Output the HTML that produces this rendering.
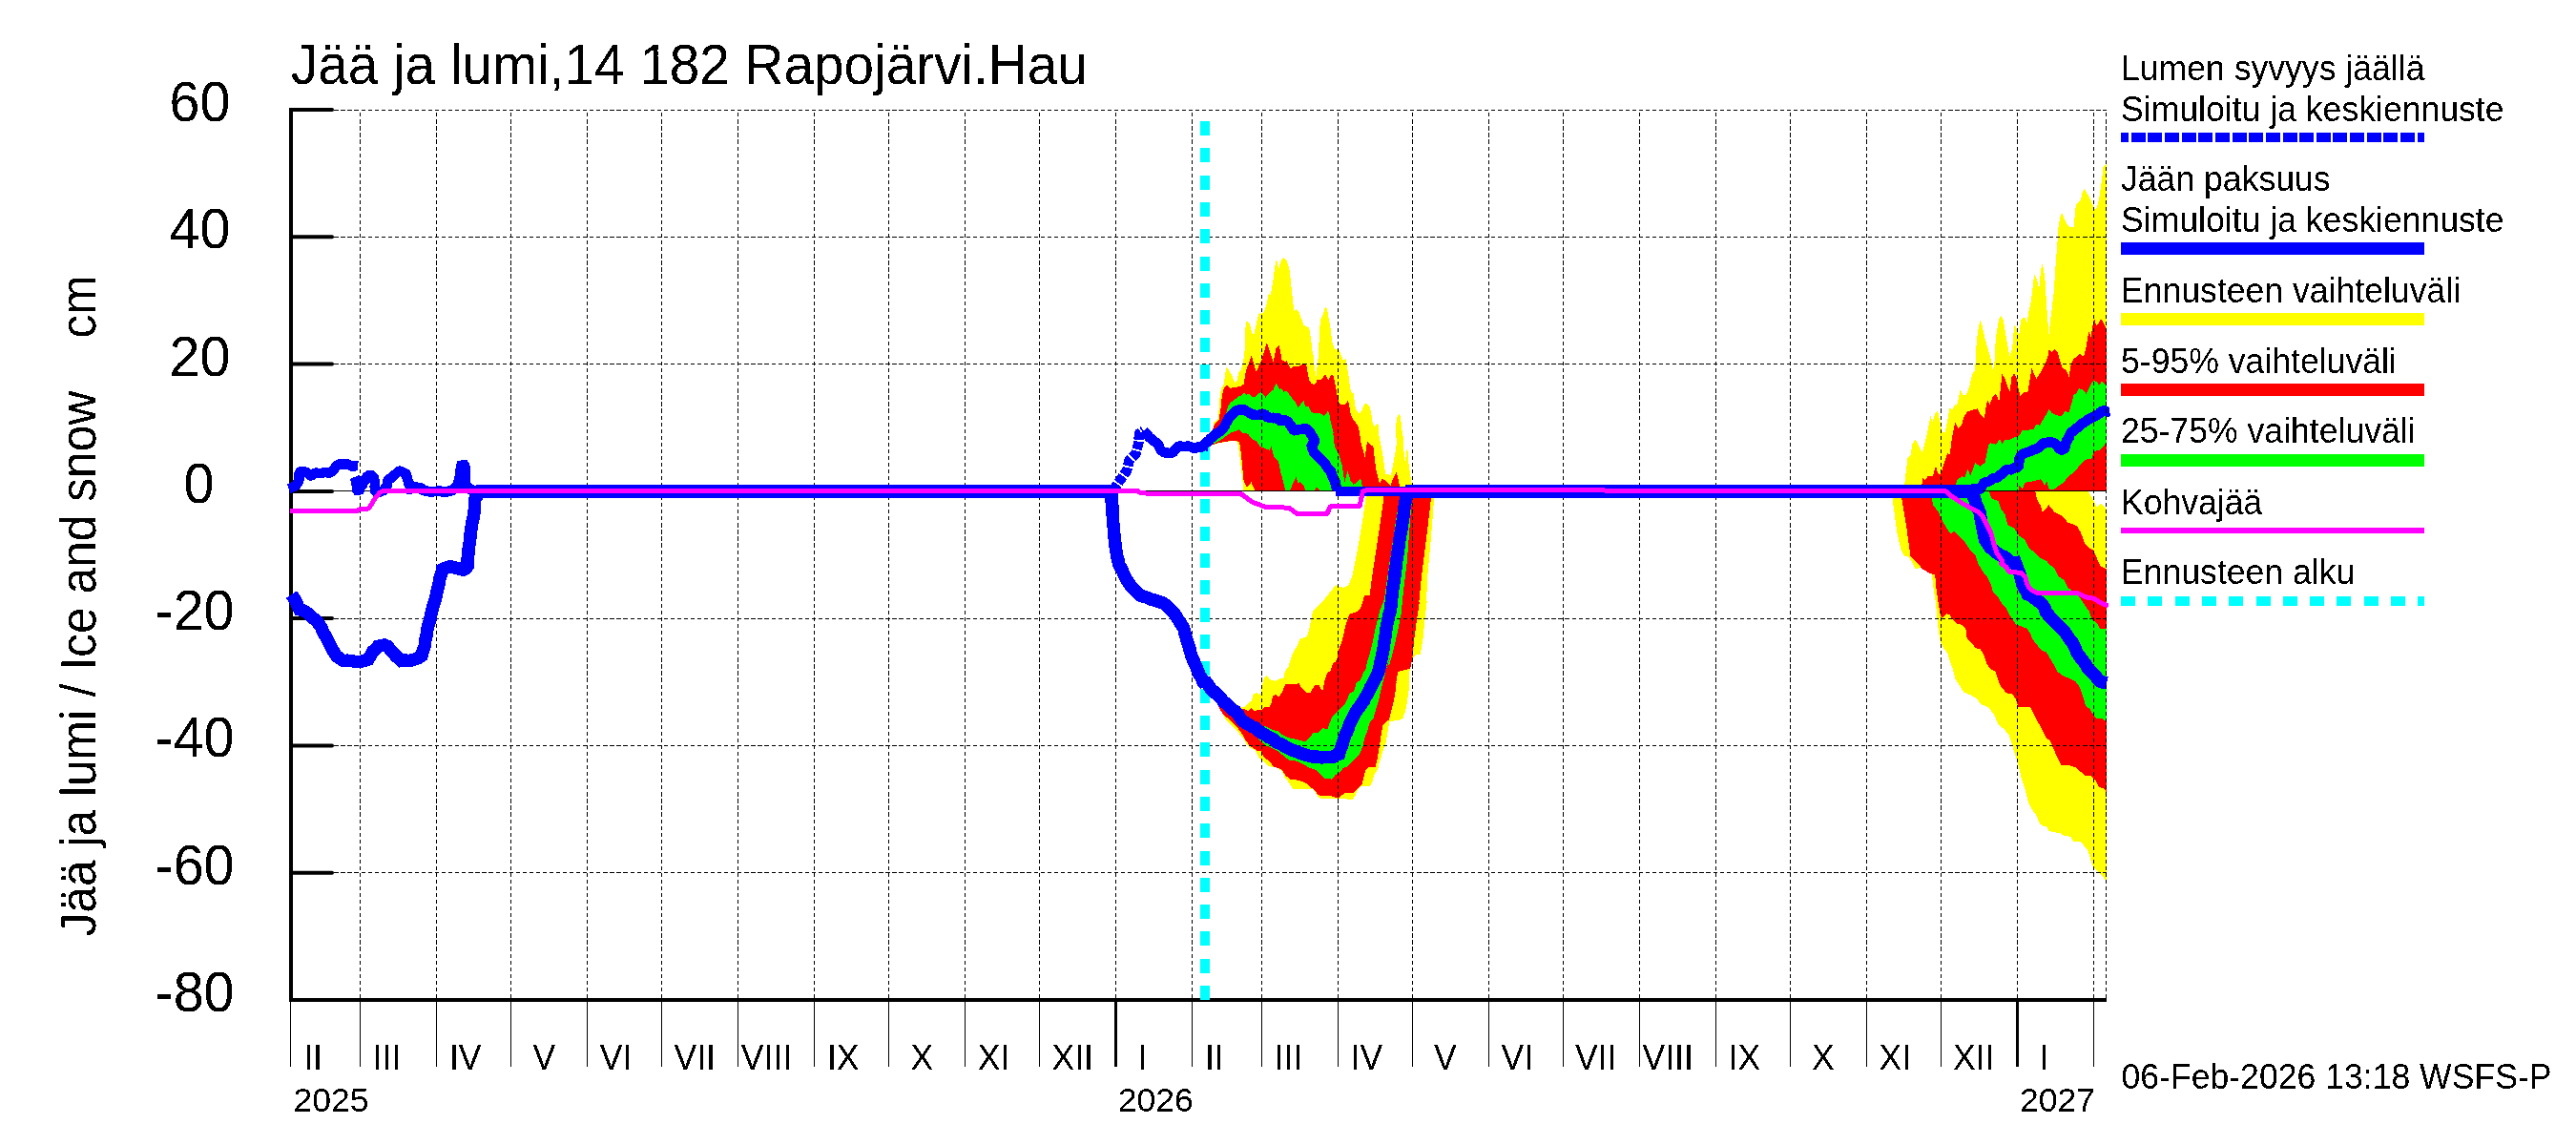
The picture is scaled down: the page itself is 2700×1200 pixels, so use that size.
<!DOCTYPE html>
<html><head><meta charset="utf-8"><title>Jää ja lumi</title>
<style>
html,body{margin:0;padding:0;background:#fff;}
svg{display:block}
text{font-family:"Liberation Sans",sans-serif;fill:#000}
.sm{font-size:35.6px}
.grid{stroke:#000;stroke-width:1;stroke-dasharray:4.2 2.85;fill:none}
</style></head><body>
<svg width="2700" height="1200" viewBox="0 0 2700 1200">
<defs><filter id="thr" x="0" y="0" width="100%" height="100%" filterUnits="userSpaceOnUse" color-interpolation-filters="sRGB"><feComponentTransfer><feFuncA type="discrete" tableValues="0 1"/></feComponentTransfer></filter></defs>
<rect width="2700" height="1200" fill="#fff"/>

<g id="fills" shape-rendering="crispEdges">
<polygon points="1263.1,466.2 1270.1,457.8 1272.0,448.5 1272.4,442.4 1274.8,440.5 1277.1,439.1 1278.0,420.4 1279.0,412.9 1280.4,405.9 1282.7,403.1 1284.1,392.4 1285.5,384.9 1287.4,387.2 1291.1,393.3 1294.4,400.8 1296.3,399.9 1298.1,390.5 1300.9,387.7 1303.3,377.4 1304.7,366.2 1305.1,347.9 1306.1,337.1 1307.5,337.1 1309.8,339.4 1312.1,348.8 1314.5,350.2 1317.3,337.1 1319.6,328.2 1322.0,328.7 1324.8,326.8 1327.6,318.9 1329.4,308.6 1330.8,308.1 1331.8,309.5 1333.2,301.1 1334.6,292.2 1335.5,284.8 1336.4,278.7 1337.4,273.1 1338.8,274.5 1340.2,282.9 1342.1,274.5 1345.3,269.8 1348.6,273.1 1350.5,278.7 1351.9,284.8 1352.8,294.1 1353.7,303.0 1354.7,311.9 1355.6,319.8 1356.5,325.9 1358.4,324.0 1361.7,327.3 1363.6,332.9 1366.4,340.8 1369.2,342.2 1371.5,343.2 1372.9,347.4 1373.8,353.5 1374.8,361.9 1375.2,367.0 1376.2,369.0 1377.6,383.0 1379.4,395.2 1380.4,385.8 1381.8,373.7 1382.7,355.0 1383.2,343.2 1384.6,332.9 1386.9,329.6 1388.3,323.6 1389.7,321.9 1391.1,324.5 1392.5,332.9 1393.9,339.4 1395.3,350.7 1396.7,360.0 1398.6,365.6 1403.3,366.5 1405.1,370.9 1407.9,377.9 1410.7,376.0 1411.7,383.0 1413.6,394.3 1415.0,405.5 1416.4,411.1 1418.7,412.0 1419.6,419.5 1421.0,428.8 1423.8,432.6 1425.7,432.6 1427.6,429.8 1429.0,425.1 1430.8,423.0 1433.2,423.2 1436.0,427.0 1437.4,434.4 1438.8,443.8 1440.7,447.1 1443.0,444.3 1444.9,444.7 1445.3,453.1 1445.8,462.0 1445.5,457.0 1448.9,474.1 1452.3,496.8 1458.0,497.9 1462.5,474.1 1464.2,462.7 1462.6,453.1 1464.0,438.2 1466.8,433.0 1468.2,439.1 1469.2,448.5 1470.6,457.8 1470.5,462.7 1472.7,485.4 1475.0,467.2 1476.7,487.7 1479.6,507.0 1480.7,514.4 1480.7,514.5 1303.6,514.5 1303.6,514.4 1301.3,494.5 1299.0,474.1 1296.8,462.7 1291.7,462.1 1277.5,464.4 1268.4,467.2" fill="#ffff00"/>
<polygon points="1263.1,466.2 1269.2,462.0 1270.6,453.1 1272.0,447.5 1273.4,443.8 1277.6,440.0 1279.4,428.8 1280.8,415.7 1282.2,408.7 1283.6,405.5 1286.0,404.1 1289.7,406.9 1293.5,405.5 1295.8,405.9 1300.9,404.5 1303.7,402.7 1305.1,392.4 1307.0,385.8 1309.3,379.3 1311.7,372.3 1313.1,377.4 1315.0,384.0 1316.8,389.6 1319.2,384.0 1322.4,377.4 1324.8,369.0 1327.6,359.2 1329.4,363.4 1332.2,371.8 1334.6,378.8 1336.0,372.8 1337.4,364.8 1340.5,362.0 1342.1,369.0 1343.5,377.4 1346.3,378.8 1348.6,378.4 1350.9,383.0 1353.3,386.8 1354.7,384.4 1362.1,383.5 1365.0,381.6 1369.2,382.1 1370.6,390.5 1372.0,398.0 1374.3,401.7 1378.0,403.1 1379.4,400.8 1380.8,397.5 1385.5,397.5 1387.9,393.3 1389.3,392.1 1391.1,396.1 1392.5,398.0 1394.4,393.8 1397.2,392.4 1398.6,398.9 1400.5,408.3 1401.9,416.7 1403.3,422.3 1407.0,424.6 1410.3,423.2 1412.6,420.1 1414.0,422.3 1415.0,431.6 1416.8,437.2 1419.2,441.0 1422.9,445.2 1424.3,450.3 1425.7,457.8 1426.2,462.7 1430.7,479.7 1433.0,462.1 1436.4,466.1 1439.3,467.2 1442.1,491.1 1446.1,507.0 1448.9,501.3 1453.4,504.7 1457.4,509.3 1460.3,501.3 1463.7,495.1 1465.9,503.6 1467.1,509.8 1467.6,514.4 1467.6,514.5 1315.5,514.5 1315.5,514.4 1311.5,505.3 1307.0,511.0 1303.6,503.6 1300.7,474.1 1299.0,462.7 1291.7,461.8 1277.5,464.1 1268.4,467.2" fill="#ff0000"/>
<polygon points="1263.1,466.2 1279.0,449.4 1282.7,439.1 1285.5,431.6 1287.4,425.1 1290.2,421.4 1293.9,419.0 1297.7,415.7 1300.5,414.8 1304.2,411.1 1306.1,413.9 1308.9,412.5 1311.7,415.7 1315.4,415.7 1319.2,412.0 1322.0,411.1 1323.8,412.9 1326.6,416.7 1329.4,412.9 1332.2,410.1 1334.6,408.7 1336.0,404.5 1337.9,401.1 1339.7,405.9 1341.1,407.8 1343.0,407.3 1345.3,410.6 1348.1,410.1 1350.9,412.9 1353.7,416.7 1357.5,421.4 1360.7,427.0 1363.1,423.7 1366.4,420.1 1368.2,426.0 1371.5,426.5 1374.3,431.6 1377.1,433.0 1380.8,433.0 1383.6,433.0 1387.4,435.8 1390.2,434.0 1392.1,430.2 1393.5,435.4 1394.9,442.9 1396.3,448.5 1397.7,454.1 1397.2,453.6 1398.9,468.4 1402.4,474.1 1406.9,487.7 1409.2,505.8 1412.6,493.4 1415.4,503.6 1418.8,508.1 1426.2,501.9 1427.9,509.8 1428.5,514.4 1428.5,514.5 1383.6,514.5 1383.6,514.4 1379.6,510.4 1377.9,514.4 1368.3,514.4 1366.0,508.1 1363.2,505.3 1360.3,505.8 1358.6,499.6 1351.8,514.4 1347.3,514.4 1345.0,504.7 1342.2,494.5 1339.9,483.1 1335.4,478.6 1332.5,468.4 1330.8,471.8 1326.3,470.1 1320.6,467.8 1317.2,462.7 1312.7,460.4 1308.1,454.8 1302.4,453.6 1299.0,450.2 1290.0,453.6 1278.6,461.6 1268.4,467.2" fill="#00ff00"/>
<polygon points="1262.1,711.0 1283.6,730.2 1289.3,731.6 1293.9,736.3 1300.5,740.9 1305.1,740.5 1307.9,737.2 1311.7,734.4 1313.6,727.9 1316.8,726.0 1319.6,727.9 1322.0,725.5 1323.8,713.8 1325.7,709.6 1328.0,708.0 1330.8,712.0 1336.9,713.8 1340.7,711.5 1345.3,710.6 1346.7,703.6 1350.5,698.9 1351.9,693.3 1354.2,686.7 1356.1,682.5 1359.3,677.4 1362.1,670.8 1363.6,669.0 1369.2,667.6 1371.5,662.4 1372.9,655.9 1374.8,646.5 1376.2,640.0 1386.0,630.8 1400.0,613.3 1402.8,614.3 1408.4,616.1 1414.0,612.6 1417.5,602.8 1423.1,574.9 1427.9,546.9 1431.4,522.5 1432.4,514.8 1503.7,514.8 1503.1,522.5 1501.3,546.9 1498.9,574.9 1496.4,602.8 1495.0,630.8 1495.7,630.0 1493.6,648.2 1491.5,669.1 1488.7,685.9 1483.8,686.6 1480.4,690.1 1477.6,701.3 1476.9,713.8 1476.2,727.8 1478.0,705.4 1477.1,714.8 1476.2,724.1 1475.2,733.5 1472.9,747.0 1472.0,747.0 1470.6,752.6 1466.8,754.5 1456.5,756.3 1454.7,765.7 1452.8,777.8 1450.9,782.5 1448.1,791.9 1445.3,800.3 1444.4,805.9 1440.7,811.5 1437.9,820.8 1436.0,823.6 1427.6,823.6 1422.9,827.4 1421.0,833.0 1418.2,837.7 1401.4,837.2 1390.2,837.2 1382.7,836.3 1379.0,831.1 1376.2,826.9 1355.6,826.9 1352.8,823.6 1350.0,819.0 1347.2,816.2 1343.5,807.7 1337.9,804.5 1329.4,803.1 1323.8,797.5 1320.1,794.7 1318.2,790.9 1315.4,786.3 1309.8,783.4 1306.1,779.7 1303.3,774.1 1298.6,768.5 1292.1,762.0 1285.5,755.4 1280.8,747.0" fill="#ffff00"/>
<polygon points="1262.1,711.5 1286.4,734.4 1292.1,739.1 1298.6,742.8 1305.1,743.3 1308.4,745.1 1311.2,741.9 1314.5,744.7 1322.0,744.2 1324.8,741.4 1330.8,740.5 1332.7,736.3 1334.1,729.3 1336.9,727.9 1340.2,730.7 1343.5,726.0 1347.2,717.4 1352.8,717.1 1358.9,716.6 1361.7,716.2 1363.6,720.4 1369.2,725.8 1373.8,725.8 1375.2,722.2 1378.5,718.0 1382.7,718.0 1385.0,722.7 1386.9,722.7 1387.9,714.8 1390.2,708.2 1391.6,704.5 1394.4,703.1 1397.2,695.1 1399.5,693.7 1401.9,689.5 1403.3,680.2 1405.6,674.6 1407.9,667.1 1409.3,659.6 1411.7,651.2 1413.6,645.6 1415.4,642.8 1415.4,643.3 1422.4,641.2 1426.6,636.4 1430.0,624.5 1435.6,623.8 1438.4,602.8 1442.6,574.9 1446.8,546.9 1450.3,522.5 1451.1,514.8 1500.5,514.8 1499.9,522.5 1497.1,546.9 1493.6,574.9 1490.1,602.8 1487.3,630.8 1488.0,630.0 1485.2,648.2 1482.4,669.1 1480.4,688.7 1478.3,700.6 1472.7,702.0 1465.0,704.1 1463.6,713.8 1461.5,727.8 1465.0,705.4 1463.6,714.8 1462.6,724.1 1461.2,733.5 1457.9,747.0 1455.6,754.5 1451.9,757.3 1449.1,761.0 1447.2,773.2 1445.3,785.3 1443.5,795.6 1441.6,803.5 1434.1,804.0 1431.3,806.8 1429.0,816.2 1427.6,821.8 1423.8,825.5 1421.0,828.3 1417.3,831.6 1410.7,830.6 1407.0,833.0 1402.3,836.7 1395.8,834.4 1381.8,833.4 1378.0,828.3 1374.3,825.5 1368.7,820.8 1363.1,818.5 1357.5,817.1 1351.9,816.6 1347.2,812.4 1343.5,806.8 1339.7,804.9 1334.1,803.1 1332.2,799.3 1327.6,795.6 1323.8,791.9 1322.0,787.2 1318.2,787.2 1315.4,785.3 1309.8,781.6 1305.1,775.0 1301.4,768.5 1294.9,760.1 1289.3,754.5 1281.8,748.9" fill="#ff0000"/>
<polygon points="1325.7,761.0 1334.1,765.2 1339.7,766.2 1344.4,770.4 1350.9,773.2 1357.5,774.6 1363.1,776.0 1368.2,777.4 1371.5,774.1 1376.2,768.5 1381.8,767.6 1386.4,763.4 1391.6,763.8 1393.9,757.3 1396.7,750.7 1400.5,747.0 1408.9,739.1 1411.7,733.5 1414.5,726.9 1419.2,724.1 1422.0,714.8 1425.7,712.9 1429.4,704.5 1431.3,701.7 1433.2,693.3 1436.0,683.9 1438.8,672.7 1441.1,660.6 1443.9,649.3 1446.3,640.0 1445.4,641.9 1451.0,628.0 1454.5,602.8 1458.7,574.9 1462.9,546.9 1466.8,522.5 1467.6,514.8 1481.1,514.8 1480.5,522.5 1479.0,532.9 1476.9,560.9 1474.8,588.8 1471.3,616.8 1469.9,630.0 1468.5,644.0 1464.3,664.9 1460.1,683.1 1456.6,695.7 1453.1,698.5 1451.0,708.3 1457.9,686.7 1454.2,696.1 1452.3,705.4 1449.5,714.8 1447.2,724.1 1445.3,733.5 1441.1,747.0 1439.7,752.6 1436.0,756.3 1433.2,765.7 1430.4,773.2 1428.5,781.6 1425.7,789.1 1422.0,793.7 1417.3,798.4 1412.6,803.1 1407.9,804.9 1403.3,810.6 1399.5,812.4 1395.8,816.6 1388.3,815.7 1383.6,811.5 1379.0,806.8 1374.3,805.4 1369.6,803.1 1364.0,799.8 1356.5,797.0 1351.9,797.0 1347.2,793.7 1340.7,788.1 1334.1,784.4 1327.6,781.6 1322.0,777.8 1315.4,769.9" fill="#00ff00"/>
<polygon points="1996.1,514.0 1996.1,508.5 1997.5,495.9 1999.6,479.1 2002.4,477.7 2004.4,465.1 2007.9,460.3 2011.4,467.9 2014.9,474.2 2017.7,463.7 2020.5,451.2 2023.6,436.0 2025.4,442.9 2028.2,433.2 2031.0,431.1 2033.1,440.1 2035.2,452.0 2038.7,453.4 2041.5,438.7 2043.6,427.6 2046.4,429.0 2049.2,424.1 2051.2,424.8 2053.3,415.0 2054.7,408.0 2057.5,414.3 2061.0,413.6 2063.8,406.6 2067.3,391.9 2070.1,388.5 2071.5,361.9 2072.9,347.9 2075.7,334.7 2077.8,342.4 2080.6,354.9 2084.1,367.5 2086.9,377.3 2088.7,387.8 2090.4,381.5 2091.8,354.9 2093.9,341.0 2096.0,331.9 2098.0,331.2 2100.1,336.8 2102.9,354.9 2106.4,373.1 2109.2,364.7 2111.3,340.3 2113.4,343.7 2116.2,351.4 2118.3,335.4 2119.7,333.3 2122.5,333.3 2124.6,338.2 2126.0,328.4 2128.1,320.0 2130.2,305.3 2131.2,294.1 2132.6,287.8 2135.1,292.7 2137.2,303.2 2138.3,291.3 2139.3,281.5 2140.7,276.7 2142.1,282.9 2143.5,294.1 2144.6,310.9 2145.1,320.0 2146.2,334.0 2147.6,351.4 2149.3,334.0 2151.1,320.0 2152.5,308.1 2153.5,294.1 2154.6,277.4 2155.7,263.4 2156.7,250.8 2157.4,238.9 2158.5,231.9 2160.2,224.3 2161.6,224.0 2163.7,229.2 2166.5,234.7 2170.0,238.0 2173.9,238.0 2174.5,228.5 2175.3,218.7 2176.3,213.8 2181.2,208.9 2182.3,201.9 2184.7,197.7 2186.8,201.9 2189.6,206.1 2193.0,213.8 2195.8,220.1 2197.9,218.0 2200.0,208.9 2202.1,194.9 2203.5,183.7 2204.6,174.7 2207.0,172.3 2208.0,172.3 2207.7,172.3 2207.7,514.5 2207.7,514.5 1996.1,514.5" fill="#ffff00"/>
<polygon points="2014.2,514.0 2014.2,508.5 2015.6,500.1 2017.7,503.6 2020.5,499.4 2026.1,498.7 2028.9,488.2 2031.0,495.9 2033.1,498.0 2035.2,493.8 2038.7,481.9 2041.5,474.9 2043.6,476.3 2045.7,461.0 2046.4,456.9 2049.2,442.9 2052.6,449.2 2056.1,445.0 2058.9,436.0 2061.7,431.8 2067.3,429.7 2072.9,428.3 2075.7,433.9 2079.9,438.0 2082.0,423.4 2083.4,419.9 2085.5,424.1 2088.3,416.4 2091.8,412.2 2095.3,420.6 2097.4,402.4 2098.5,391.9 2101.5,396.8 2104.3,405.2 2106.4,410.8 2108.5,395.4 2111.3,391.2 2113.4,395.4 2115.5,406.6 2117.6,415.0 2121.1,410.8 2125.3,411.5 2127.4,398.2 2129.5,385.7 2131.6,391.2 2134.4,396.8 2137.2,392.6 2140.7,387.1 2143.5,381.5 2146.2,374.5 2147.6,366.1 2150.4,368.9 2153.2,366.1 2156.7,369.6 2159.5,378.7 2161.6,385.0 2165.8,388.5 2168.6,394.7 2170.7,381.5 2173.5,375.9 2177.0,373.8 2179.8,371.0 2184.0,373.8 2186.1,366.1 2188.2,353.5 2189.6,347.2 2191.7,353.5 2193.0,343.7 2195.1,333.3 2197.2,341.7 2200.0,338.2 2202.1,334.0 2204.9,338.2 2207.0,343.7 2208.0,347.9 2207.7,347.9 2207.7,514.5 2207.7,514.5 2014.2,514.5" fill="#ff0000"/>
<polygon points="2049.9,514.0 2049.9,508.5 2051.2,502.9 2056.1,499.4 2059.6,500.1 2062.4,491.7 2065.2,498.7 2068.0,491.7 2070.5,484.7 2075.0,488.9 2080.6,484.7 2084.1,466.5 2086.2,464.4 2091.8,465.8 2096.0,460.3 2098.7,465.1 2101.5,461.0 2107.1,460.7 2112.7,457.9 2116.2,456.8 2119.7,451.2 2126.7,450.5 2131.6,449.8 2134.4,444.9 2137.9,445.6 2141.4,440.0 2145.5,433.2 2147.6,428.3 2150.4,432.5 2154.6,434.6 2160.2,436.7 2164.4,431.1 2168.6,432.5 2170.7,424.8 2173.5,413.6 2176.3,412.9 2179.1,407.3 2183.3,408.7 2186.8,412.9 2189.6,406.6 2192.3,401.0 2195.1,398.9 2197.9,400.3 2200.0,403.8 2202.8,399.6 2205.6,402.4 2208.0,404.5 2207.7,404.5 2207.7,463.1 2208.0,463.1 2204.9,467.9 2200.7,472.1 2195.1,472.8 2192.3,480.5 2185.4,481.9 2181.2,486.1 2174.2,494.5 2167.2,500.1 2163.0,505.7 2158.8,508.5 2153.2,512.6 2147.6,512.6 2145.5,505.0 2142.8,508.5 2139.3,502.2 2130.9,504.3 2122.5,505.7 2119.7,512.6 2116.2,509.2 2115.5,514.0" fill="#00ff00"/>
<polygon points="1982.8,514.0 1983.5,522.4 1985.6,537.8 1988.4,558.7 1992.6,576.9 1996.1,582.5 2001.0,583.9 2004.4,590.0 2007.9,596.3 2012.8,594.9 2017.7,592.1 2021.9,598.4 2024.7,601.9 2026.8,617.9 2028.9,631.9 2030.3,645.9 2031.7,659.9 2033.8,672.4 2037.3,679.4 2041.5,685.0 2044.3,694.8 2047.1,701.8 2049.2,711.5 2054.0,718.5 2058.2,725.5 2065.2,728.3 2072.2,732.5 2076.4,738.1 2083.4,740.9 2088.3,746.5 2090.4,749.8 2094.6,759.6 2100.1,763.7 2105.7,770.7 2108.5,779.1 2112.0,790.3 2115.5,801.5 2118.3,814.0 2122.5,826.6 2126.0,840.6 2130.2,849.0 2134.4,854.6 2137.9,862.9 2137.0,862.8 2141.9,865.9 2145.4,866.3 2147.5,870.5 2150.3,871.9 2158.7,872.9 2162.8,875.7 2170.5,876.8 2173.0,881.6 2180.7,882.0 2184.5,886.5 2188.0,890.7 2190.1,896.3 2191.5,901.9 2193.6,907.5 2197.8,912.4 2203.4,918.0 2207.9,923.9 2207.7,923.9 2207.7,533.6 2208.0,533.6 2202.1,528.0 2197.9,531.5 2192.3,521.0 2188.2,514.0" fill="#ffff00"/>
<polygon points="1992.6,514.0 1993.3,522.4 1995.4,535.0 1998.2,551.8 2001.0,572.7 2002.4,582.5 2007.9,588.1 2010.0,590.0 2014.9,596.3 2021.9,600.5 2028.2,602.6 2029.6,617.9 2031.7,631.9 2033.8,645.2 2035.9,647.3 2040.1,643.1 2043.6,644.5 2047.1,650.1 2051.2,653.6 2056.8,655.0 2060.3,658.5 2061.7,669.6 2066.6,673.8 2070.8,679.4 2075.7,680.1 2079.2,686.4 2082.0,694.8 2086.2,701.1 2091.1,703.2 2093.9,711.5 2096.0,717.8 2102.9,726.2 2109.2,727.6 2112.7,732.5 2115.5,740.9 2128.1,740.9 2130.9,746.5 2133.7,752.6 2139.3,762.4 2144.9,774.2 2148.3,775.6 2151.8,783.3 2156.0,793.1 2160.2,801.5 2168.6,802.2 2175.6,804.3 2181.2,809.2 2185.4,812.6 2191.7,813.3 2196.5,818.2 2200.0,825.2 2204.9,825.9 2208.0,830.8 2207.7,830.8 2207.7,596.5 2208.0,596.5 2202.1,593.7 2197.9,585.3 2193.7,576.2 2189.6,574.1 2185.4,569.9 2181.2,558.7 2177.0,551.1 2167.2,547.6 2161.6,540.6 2153.2,536.4 2147.6,529.4 2140.7,536.4 2139.3,530.8 2135.1,523.8 2133.0,514.0" fill="#ff0000"/>
<polygon points="2024.0,514.0 2024.7,522.4 2026.1,529.4 2031.7,536.4 2034.5,543.4 2040.1,553.2 2044.3,559.4 2048.5,556.7 2054.0,562.9 2059.6,568.5 2065.2,576.9 2070.8,582.5 2073.6,590.9 2077.8,598.4 2083.4,605.4 2086.9,613.1 2089.0,620.7 2094.6,626.3 2098.7,633.3 2102.2,636.8 2105.7,643.8 2109.2,648.7 2112.7,654.3 2118.3,656.4 2123.9,658.5 2127.4,662.6 2130.2,669.6 2134.4,675.2 2140.0,681.5 2144.9,683.6 2149.0,690.6 2153.2,697.6 2156.7,703.9 2161.6,708.0 2168.6,710.8 2175.6,714.3 2179.8,719.9 2182.6,728.3 2186.1,739.5 2191.0,743.7 2191.0,744.2 2195.1,751.2 2197.9,753.3 2202.1,752.6 2208.0,756.1 2207.7,756.1 2207.7,658.5 2208.0,658.5 2201.4,659.2 2197.9,652.9 2192.3,648.7 2189.6,640.3 2185.4,634.7 2179.8,626.3 2171.4,618.6 2167.2,615.8 2163.0,607.5 2157.4,604.0 2153.2,595.6 2146.2,590.0 2146.2,588.8 2139.3,585.3 2132.3,579.0 2126.7,574.1 2122.5,565.7 2116.2,561.5 2111.3,553.9 2104.3,550.4 2101.5,539.2 2097.4,533.6 2094.6,525.2 2087.6,522.4 2084.1,514.0" fill="#00ff00"/>
</g>
<line x1="305" y1="514.5" x2="2207.7" y2="514.5" stroke="#000" stroke-width="1" shape-rendering="crispEdges"/>
<g id="pre" shape-rendering="crispEdges">
<polyline points="1262.1,466.2 1264.2,464.2 1266.7,462.2 1269.1,459.0 1270.6,458.7 1273.1,455.4 1276.4,454.0 1278.7,452.1 1281.0,449.6 1282.5,448.6 1284.0,445.9 1285.7,441.9 1287.0,440.9 1287.8,437.5 1289.7,436.2 1291.8,434.3 1294.2,431.6 1297.5,429.5 1299.9,430.0 1302.8,428.4 1304.3,429.8 1307.5,431.5 1309.5,432.6 1311.7,434.2 1314.3,434.6 1317.4,435.3 1319.8,434.7 1322.4,434.1 1325.0,433.2 1327.0,436.6 1328.9,437.4 1332.5,438.0 1335.4,438.3 1337.6,436.7 1340.6,440.2 1342.1,441.2 1344.8,439.5 1347.0,440.6 1349.5,441.4 1351.1,443.7 1353.5,446.9 1356.0,450.9 1357.9,451.7 1360.1,450.3 1362.7,449.8 1364.6,450.1 1367.4,448.6 1369.1,449.3 1370.8,451.3 1372.9,451.9 1373.8,454.6 1375.4,457.1 1376.7,459.7 1378.5,462.0 1376.6,464.6 1375.0,465.8 1374.5,468.4 1375.4,469.6 1376.7,473.1 1377.7,475.5 1379.8,476.5 1382.4,479.7 1385.1,481.7 1387.8,484.8 1388.8,485.6 1391.2,489.8 1392.4,491.0 1394.5,493.0 1395.4,495.8 1396.5,499.2 1397.6,501.6 1399.2,503.7 1399.8,507.9 1400.3,509.4 1401.6,512.1 1402.0,514.5" fill="none" stroke="#0000ff" stroke-width="10.6" stroke-linejoin="bevel" />
<polyline points="2063.8,514.0 2066.3,512.8 2069.3,512.6 2071.7,512.8 2075.5,513.3 2077.2,509.7 2078.8,507.5 2080.2,504.8 2083.1,505.2 2086.5,503.5 2089.3,500.8 2091.1,500.8 2093.9,500.4 2096.4,497.8 2098.9,496.6 2101.5,493.1 2105.0,491.8 2109.0,492.5 2110.9,490.3 2113.6,490.0 2115.9,489.7 2116.0,485.9 2116.6,483.2 2116.5,480.1 2118.7,477.1 2119.2,475.9 2122.3,475.0 2125.3,473.9 2128.6,472.9 2130.3,471.7 2132.9,470.7 2134.9,470.6 2137.7,468.1 2141.1,465.0 2142.5,464.3 2145.6,464.2 2147.4,462.7 2150.8,463.7 2154.1,464.9 2156.5,467.5 2157.7,469.7 2158.3,470.3 2163.5,472.7 2163.8,470.3 2165.0,467.2 2165.6,463.1 2167.1,460.2 2168.5,459.2 2169.8,454.3 2171.4,452.8 2174.0,451.3 2175.4,448.9 2178.9,447.5 2180.9,444.6 2183.5,443.1 2187.0,441.3 2189.1,438.7 2191.6,438.9 2193.8,436.9 2196.8,435.8 2199.9,433.8 2201.8,431.6 2205.8,430.2 2208.5,431.6 2211.2,431.1" fill="none" stroke="#0000ff" stroke-width="10.6" stroke-linejoin="bevel" />
</g>
<g class="grid" shape-rendering="crispEdges">
<line x1="308" y1="115.5" x2="2207.7" y2="115.5"/>
<line x1="308" y1="248.5" x2="2207.7" y2="248.5"/>
<line x1="308" y1="381.5" x2="2207.7" y2="381.5"/>
<line x1="308" y1="514.5" x2="2207.7" y2="514.5"/>
<line x1="308" y1="648.5" x2="2207.7" y2="648.5"/>
<line x1="308" y1="781.5" x2="2207.7" y2="781.5"/>
<line x1="308" y1="914.5" x2="2207.7" y2="914.5"/>
<line x1="377.5" y1="1046" x2="377.5" y2="115"/>
<line x1="457.5" y1="1046" x2="457.5" y2="115"/>
<line x1="535.5" y1="1046" x2="535.5" y2="115"/>
<line x1="615.5" y1="1046" x2="615.5" y2="115"/>
<line x1="693.5" y1="1046" x2="693.5" y2="115"/>
<line x1="773.5" y1="1046" x2="773.5" y2="115"/>
<line x1="853.5" y1="1046" x2="853.5" y2="115"/>
<line x1="931.5" y1="1046" x2="931.5" y2="115"/>
<line x1="1011.5" y1="1046" x2="1011.5" y2="115"/>
<line x1="1089.5" y1="1046" x2="1089.5" y2="115"/>
<line x1="1169.5" y1="1046" x2="1169.5" y2="115"/>
<line x1="1249.5" y1="1046" x2="1249.5" y2="115"/>
<line x1="1322.5" y1="1046" x2="1322.5" y2="115"/>
<line x1="1402.5" y1="1046" x2="1402.5" y2="115"/>
<line x1="1480.5" y1="1046" x2="1480.5" y2="115"/>
<line x1="1560.5" y1="1046" x2="1560.5" y2="115"/>
<line x1="1638.5" y1="1046" x2="1638.5" y2="115"/>
<line x1="1718.5" y1="1046" x2="1718.5" y2="115"/>
<line x1="1798.5" y1="1046" x2="1798.5" y2="115"/>
<line x1="1876.5" y1="1046" x2="1876.5" y2="115"/>
<line x1="1956.5" y1="1046" x2="1956.5" y2="115"/>
<line x1="2034.5" y1="1046" x2="2034.5" y2="115"/>
<line x1="2114.5" y1="1046" x2="2114.5" y2="115"/>
<line x1="2194.5" y1="1046" x2="2194.5" y2="115"/>
<line x1="2207.5" y1="1046" x2="2207.5" y2="115"/>
</g>
<g stroke="#000" stroke-width="4" fill="none" stroke-linecap="round">
<line x1="306" y1="115.0" x2="348" y2="115.0"/>
<line x1="306" y1="248.3" x2="348" y2="248.3"/>
<line x1="306" y1="381.6" x2="348" y2="381.6"/>
<line x1="306" y1="514.9" x2="348" y2="514.9"/>
<line x1="306" y1="648.1" x2="348" y2="648.1"/>
<line x1="306" y1="781.4" x2="348" y2="781.4"/>
<line x1="306" y1="914.7" x2="348" y2="914.7"/>
</g>
<g stroke="#000" stroke-width="4" fill="none" stroke-linecap="square" shape-rendering="crispEdges">
<line x1="305" y1="115" x2="305" y2="1048"/>
<line x1="305" y1="1048" x2="2205.7" y2="1048"/>
</g>
<g stroke="#000" shape-rendering="crispEdges">
<line x1="304.5" y1="1048" x2="304.5" y2="1118" stroke-width="1"/>
<line x1="377.5" y1="1048" x2="377.5" y2="1118" stroke-width="1"/>
<line x1="457.5" y1="1048" x2="457.5" y2="1118" stroke-width="1"/>
<line x1="535.5" y1="1048" x2="535.5" y2="1118" stroke-width="1"/>
<line x1="615.5" y1="1048" x2="615.5" y2="1118" stroke-width="1"/>
<line x1="693.5" y1="1048" x2="693.5" y2="1118" stroke-width="1"/>
<line x1="773.5" y1="1048" x2="773.5" y2="1118" stroke-width="1"/>
<line x1="853.5" y1="1048" x2="853.5" y2="1118" stroke-width="1"/>
<line x1="931.5" y1="1048" x2="931.5" y2="1118" stroke-width="1"/>
<line x1="1011.5" y1="1048" x2="1011.5" y2="1118" stroke-width="1"/>
<line x1="1089.5" y1="1048" x2="1089.5" y2="1118" stroke-width="1"/>
<line x1="1169.5" y1="1048" x2="1169.5" y2="1118" stroke-width="3"/>
<line x1="1249.5" y1="1048" x2="1249.5" y2="1118" stroke-width="1"/>
<line x1="1322.5" y1="1048" x2="1322.5" y2="1118" stroke-width="1"/>
<line x1="1402.5" y1="1048" x2="1402.5" y2="1118" stroke-width="1"/>
<line x1="1480.5" y1="1048" x2="1480.5" y2="1118" stroke-width="1"/>
<line x1="1560.5" y1="1048" x2="1560.5" y2="1118" stroke-width="1"/>
<line x1="1638.5" y1="1048" x2="1638.5" y2="1118" stroke-width="1"/>
<line x1="1718.5" y1="1048" x2="1718.5" y2="1118" stroke-width="1"/>
<line x1="1798.5" y1="1048" x2="1798.5" y2="1118" stroke-width="1"/>
<line x1="1876.5" y1="1048" x2="1876.5" y2="1118" stroke-width="1"/>
<line x1="1956.5" y1="1048" x2="1956.5" y2="1118" stroke-width="1"/>
<line x1="2034.5" y1="1048" x2="2034.5" y2="1118" stroke-width="1"/>
<line x1="2114.5" y1="1048" x2="2114.5" y2="1118" stroke-width="3"/>
<line x1="2194.5" y1="1048" x2="2194.5" y2="1118" stroke-width="1"/>
</g>
<line x1="1263" y1="1048.1" x2="1263" y2="115" stroke="#00ffff" stroke-width="10" stroke-dasharray="15 13.316" shape-rendering="crispEdges"/>
<g id="lines" shape-rendering="crispEdges">
<polyline points="302.7,512.1 305.3,511.1 307.9,510.1 310.3,508.5 312.0,506.0 313.3,503.7 313.6,499.7 313.5,497.2 313.9,495.1 315.6,493.6 318.2,494.5 320.9,494.7 323.2,496.5 325.2,498.3 326.9,498.6 329.6,495.7 334.7,495.8 337.0,495.8 340.5,495.0 343.2,495.4 346.9,495.3 350.6,491.0 352.1,489.0 354.0,487.0 357.7,486.1 360.8,486.8 364.7,486.5 368.0,488.1 370.3,489.3 373.0,487.7 375.0,488.0" fill="none" stroke="#0000ff" stroke-width="10.5" stroke-linejoin="bevel" />
<polyline points="371.9,499.8 372.7,501.6 372.8,504.7 373.6,506.9 373.9,510.9 374.4,514.2 375.8,515.5 377.2,513.1 377.7,510.6 379.3,509.7 380.6,506.0 382.1,504.3 382.8,501.8 385.4,498.9 388.0,497.4 391.5,500.1 392.1,501.7 392.8,505.8 392.8,508.5 392.7,510.2 393.2,515.5 395.8,516.4 398.9,515.2 403.0,513.6 403.6,510.7 405.4,509.7 406.2,505.9 406.8,502.6 410.1,500.9 412.1,498.7 415.2,496.3 417.7,493.9 419.8,493.5 422.9,495.4 425.0,494.1 426.0,498.2 427.4,502.9 428.0,505.7 429.4,509.1 432.5,509.6 435.0,511.7 432.7,511.2 428.8,513.4 426.5,513.0 429.5,512.3 432.2,510.5 434.8,509.9 438.3,511.3 441.6,510.7 444.0,515.3 446.9,514.4 450.1,515.5 453.1,515.7 455.1,515.2 458.4,514.6 461.5,514.1 464.1,515.9 467.2,515.8 470.5,514.4 473.0,515.1 475.7,512.5 477.2,510.2 480.3,509.4 480.2,506.2 481.4,501.6 482.2,497.6 481.9,494.6 482.9,491.6 483.1,488.8 484.0,486.5 484.6,484.5 485.7,486.2 487.5,488.3 487.6,491.6 488.2,494.7 487.7,498.6 488.2,501.1 488.1,505.0 487.5,508.7 490.3,510.0 492.5,513.5 495.8,513.4 499.1,514.9" fill="none" stroke="#0000ff" stroke-width="10.5" stroke-linejoin="bevel" />
<polyline points="499.1,514.9 1166.0,514.9" fill="none" stroke="#0000ff" stroke-width="10" stroke-linejoin="round" />
<polyline points="1166.2,514.4 1174.1,503.1 1181.0,493.4 1183.7,482.1 1190.7,475.1 1193.3,464.6 1194.1,454.1 1198.5,451.5" fill="none" stroke="#0000ff" stroke-width="10.5" stroke-linejoin="round" stroke-dasharray="8.5 1.8"/>
<polyline points="1198.5,451.5 1200.9,454.3 1202.6,455.1 1204.1,458.0 1206.8,460.0 1208.9,461.7 1210.9,463.5 1213.6,464.4 1214.9,467.9 1215.9,470.6 1218.1,472.8 1221.1,474.6 1224.2,474.7 1226.9,474.9 1231.2,473.2 1231.8,470.7 1233.9,468.8 1235.7,467.4 1238.1,467.6 1241.4,468.2 1245.3,467.3 1248.5,468.6 1252.1,470.0 1254.8,468.7 1258.9,468.6 1262.4,467.2 1266.2,467.3 1261.7,466.6 1264.3,463.4 1266.8,462.0" fill="none" stroke="#0000ff" stroke-width="10.5" stroke-linejoin="bevel" />
<polyline points="1400.0,514.9 2075.0,514.9" fill="none" stroke="#0000ff" stroke-width="10" stroke-linejoin="round" />
<polyline points="498.5,515.0 1166.0,515.0" fill="none" stroke="#0000ff" stroke-width="14" stroke-linejoin="round" />
<polyline points="1473.0,515.0 2064.0,515.0" fill="none" stroke="#0000ff" stroke-width="14" stroke-linejoin="round" />
<polyline points="305.5,623.0 307.1,625.5 309.1,628.4 310.7,631.6 312.2,635.3 313.9,638.7 317.5,639.6 321.1,641.7 323.9,643.7 327.1,647.1 330.0,649.1 332.5,651.6 334.8,654.8 336.7,657.5 338.5,661.8 340.2,665.0 342.2,668.3 343.9,671.4 345.4,675.1 347.5,678.8 349.0,681.9 350.8,684.5 352.8,687.8 356.0,689.9 359.6,692.4 364.1,692.2 368.6,692.4 372.7,693.6 376.9,693.7 381.2,692.6 385.9,691.2 387.8,688.0 389.4,685.4 391.1,682.3 393.8,680.3 396.3,677.3 399.5,676.5 403.3,676.0 406.1,677.3 408.4,680.0 410.6,682.3 413.0,684.6 415.2,687.9 417.9,689.5 420.7,692.4 424.0,691.9 427.7,692.4 431.4,692.0 434.6,691.0 438.1,689.8 441.9,687.2 442.7,683.8 443.9,680.6 445.2,676.9 445.5,672.7 446.4,668.5 447.4,664.3 447.8,659.8 449.0,654.8 450.2,651.3 451.3,646.9 452.1,642.1 453.0,638.9 454.0,634.8 455.1,631.4 456.3,627.8 457.1,624.4 458.0,620.2 458.9,616.5 460.1,611.3 460.7,607.1 461.7,603.4 462.8,600.9 463.5,596.8 467.2,595.1 471.3,593.9 475.0,594.3 478.1,595.6 481.9,596.0 485.4,597.2 487.5,596.1 489.9,593.6 489.9,589.0 490.2,585.3 490.8,581.1 491.0,576.3 491.6,572.9 492.3,568.4 492.9,563.9 493.2,559.3 494.0,554.4 494.4,550.3 495.2,546.4 496.3,541.8 496.9,538.0 497.4,532.9 497.4,528.4 497.8,524.0 498.5,520.4 498.8,523.0 499.1,519.3 499.5,515.0" fill="none" stroke="#0000ff" stroke-width="13.5" stroke-linejoin="miter" stroke-miterlimit="3" />
<polyline points="1164.5,515.0 1164.8,515.0 1164.8,519.3 1165.0,522.8 1165.2,526.1 1165.9,529.9 1166.0,534.0 1166.2,537.8 1166.3,542.0 1166.6,545.1 1166.8,548.9 1167.3,553.4 1167.6,556.3 1167.9,561.1 1168.2,564.4 1168.8,568.3 1169.1,572.1 1169.6,575.8 1170.2,579.5 1170.7,582.7 1172.0,587.0 1172.5,591.3 1174.4,594.4 1176.3,597.4 1177.7,601.4 1179.3,604.7 1181.5,608.4 1184.2,612.5 1186.5,615.8 1189.2,618.0 1192.4,621.1 1195.2,624.1 1199.2,625.4 1202.8,626.4 1206.5,628.1 1211.1,629.3 1215.8,630.9 1219.1,632.0 1221.8,633.9 1225.0,636.7 1227.0,639.3 1229.3,641.3 1231.9,644.5 1233.8,647.5 1236.1,651.2 1238.5,655.0 1240.8,658.6 1241.7,662.4 1242.8,666.8 1244.1,671.1 1245.3,675.0 1246.7,678.2 1247.3,682.3 1248.7,686.8 1250.0,690.5 1251.8,694.1 1253.5,698.3 1255.2,702.0 1256.9,706.8 1259.2,710.4 1261.0,714.6 1263.4,717.4 1262.9,714.9 1262.1,711.6 1264.1,715.2 1266.5,717.8 1268.7,721.6 1271.3,723.8 1273.6,726.1 1276.0,728.4 1279.4,731.6 1282.8,735.6 1286.0,737.8 1289.2,741.3 1291.8,744.0 1295.0,745.6 1297.5,748.5 1299.7,752.2 1302.5,755.6 1305.3,757.4 1309.1,759.4 1312.4,761.6 1315.3,762.7 1319.2,765.9 1322.8,768.4 1326.8,770.4 1329.7,772.7 1332.9,773.9 1335.9,775.6 1338.7,778.4 1343.0,779.8 1346.8,782.3 1351.1,784.6 1354.9,786.2 1358.6,787.6 1362.1,789.0 1366.8,790.7 1371.7,792.1 1375.9,793.1 1380.7,793.2 1385.3,793.9 1390.1,793.5 1394.1,793.3 1397.5,793.2 1400.4,791.2 1403.5,790.3 1404.8,786.0 1406.3,782.6 1407.7,777.7 1409.0,773.5 1410.1,770.2 1411.5,767.5 1412.9,764.1 1414.3,759.7 1416.5,754.9 1418.2,751.6 1420.3,747.5 1422.4,743.9 1425.3,740.6 1427.5,736.7 1429.6,734.3 1431.3,730.5 1433.2,727.7 1435.0,724.2 1436.7,720.1 1438.7,716.4 1440.7,712.5 1442.8,709.0 1444.4,705.1 1445.4,701.6 1446.5,697.5 1447.0,694.0 1447.8,690.7 1448.7,686.2 1449.5,683.3 1450.2,679.3 1450.5,675.9 1451.3,671.8 1451.7,668.5 1452.6,664.8 1452.7,660.4 1453.4,656.5 1454.2,652.6 1454.9,649.4 1455.9,644.6 1457.3,640.1 1457.8,636.3 1458.2,632.3 1458.6,627.5 1459.3,623.5 1459.5,619.5 1460.2,614.8 1460.9,611.1 1461.5,607.0 1462.0,602.6 1462.2,598.9 1463.0,595.2 1463.5,590.4 1463.9,586.3 1464.5,583.4 1465.0,579.1 1465.7,574.5 1466.4,570.4 1466.7,567.0 1467.3,563.4 1468.0,559.0 1468.9,554.5 1469.6,550.4 1469.9,547.1 1470.8,542.7 1471.4,538.9 1471.7,534.3 1472.2,530.5 1472.9,526.4 1473.8,522.3 1474.1,518.1 1474.3,514.8" fill="none" stroke="#0000ff" stroke-width="13.5" stroke-linejoin="miter" stroke-miterlimit="3" />
<polyline points="2060.0,515.0 2058.2,514.0 2062.4,514.9 2066.4,516.5 2067.7,519.6 2069.6,522.7 2070.8,526.7 2071.9,530.2 2073.7,534.0 2075.1,537.4 2075.6,540.8 2076.4,545.3 2077.1,548.6 2077.7,552.0 2078.3,555.0 2079.3,559.0 2079.8,561.8 2080.5,565.4 2083.3,569.8 2086.0,573.6 2089.2,576.4 2092.6,579.2 2096.2,581.5 2100.4,583.5 2103.9,585.8 2107.6,589.0 2111.2,590.3 2112.5,590.0 2113.8,593.3 2115.5,597.9 2116.9,601.1 2117.9,604.4 2118.8,608.3 2119.8,612.9 2121.3,615.7 2123.5,618.5 2125.2,622.7 2128.4,623.6 2131.0,626.4 2133.5,627.8 2136.9,630.4 2140.8,633.4 2142.9,637.0 2144.8,642.1 2147.2,644.4 2149.5,647.8 2151.9,649.5 2155.5,653.4 2158.8,656.7 2162.3,660.4 2165.6,664.2 2167.4,667.2 2169.3,669.9 2171.6,672.4 2173.6,676.3 2175.7,680.7 2177.3,684.6 2179.3,687.2 2181.4,690.4 2183.6,693.0 2186.0,695.9 2187.9,699.5 2190.3,702.3 2193.1,704.7 2194.9,706.9 2197.3,709.8 2199.9,713.0 2202.0,714.6 2208.0,716.0" fill="none" stroke="#0000ff" stroke-width="13.5" stroke-linejoin="miter" stroke-miterlimit="3" />
<polyline points="304.1,535.5 374.0,535.5 377.5,533.4 386.5,533.0 392.8,522.9 397.7,516.6 401.2,514.4 1140.0,514.5 1192.4,514.5 1195.9,516.7 1208.1,517.4 1300.2,517.4 1303.6,519.5 1308.1,522.9 1312.7,526.3 1319.5,528.6 1326.3,531.4 1342.2,531.7 1351.3,532.5 1359.2,538.2 1391.0,538.2 1394.4,530.8 1425.1,530.3 1428.5,514.9 1431.9,513.8 2038.7,514.3 2045.7,520.3 2055.4,526.6 2063.8,531.5 2072.2,535.7 2077.8,540.6 2082.7,550.4 2086.9,558.7 2089.7,569.9 2093.2,579.7 2098.7,588.1 2097.4,590.7 2102.9,594.2 2105.7,599.1 2118.3,600.5 2122.5,604.0 2125.3,613.7 2129.5,618.6 2136.5,621.9 2178.4,621.9 2185.4,625.6 2195.1,627.4 2202.1,631.9 2209.8,635.0" fill="none" stroke="#ff00ff" stroke-width="5" stroke-linejoin="round" />
</g>
<g filter="url(#thr)">
<g class="sm">
<text transform="translate(318.2,1120.5) scale(1,1.055)" >II</text>
<text transform="translate(390.7,1120.5) scale(1,1.055)" >III</text>
<text transform="translate(470.9,1120.5) scale(1,1.055)" >IV</text>
<text transform="translate(558.4,1120.5) scale(1,1.055)" >V</text>
<text transform="translate(628.8,1120.5) scale(1,1.055)" >VI</text>
<text transform="translate(706.4,1120.5) scale(1,1.055)" >VII</text>
<text transform="translate(776.8,1120.5) scale(1,1.055)" >VIII</text>
<text transform="translate(866.9,1120.5) scale(1,1.055)" >IX</text>
<text transform="translate(954.4,1120.5) scale(1,1.055)" >X</text>
<text transform="translate(1024.8,1120.5) scale(1,1.055)" >XI</text>
<text transform="translate(1102.4,1120.5) scale(1,1.055)" >XII</text>
<text transform="translate(1192.6,1120.5) scale(1,1.055)" >I</text>
<text transform="translate(1262.9,1120.5) scale(1,1.055)" >II</text>
<text transform="translate(1335.4,1120.5) scale(1,1.055)" >III</text>
<text transform="translate(1415.6,1120.5) scale(1,1.055)" >IV</text>
<text transform="translate(1503.1,1120.5) scale(1,1.055)" >V</text>
<text transform="translate(1573.5,1120.5) scale(1,1.055)" >VI</text>
<text transform="translate(1651.1,1120.5) scale(1,1.055)" >VII</text>
<text transform="translate(1721.5,1120.5) scale(1,1.055)" >VIII</text>
<text transform="translate(1811.6,1120.5) scale(1,1.055)" >IX</text>
<text transform="translate(1899.1,1120.5) scale(1,1.055)" >X</text>
<text transform="translate(1969.5,1120.5) scale(1,1.055)" >XI</text>
<text transform="translate(2047.1,1120.5) scale(1,1.055)" >XII</text>
<text transform="translate(2137.3,1120.5) scale(1,1.055)" >I</text>
<text transform="translate(307.5,1165.0) scale(1,1.0)" >2025</text>
<text transform="translate(1171.7,1165.0) scale(1,1.0)" >2026</text>
<text transform="translate(2116.9,1165.0) scale(1,1.0)" >2027</text>
<text transform="translate(2223.5,1140.5) scale(1,1.055)" >06-Feb-2026 13:18 WSFS-P</text>
</g>
<g font-size="57.5px">
<text transform="translate(177.5,126.9) scale(1,1.04)" >60</text>
<text transform="translate(177.5,260.2) scale(1,1.04)" >40</text>
<text transform="translate(177.5,393.5) scale(1,1.04)" >20</text>
<text transform="translate(192.5,526.8) scale(1,1.04)" >0</text>
<text transform="translate(162.5,660.0) scale(1,1.04)" >-20</text>
<text transform="translate(162.5,793.3) scale(1,1.04)" >-40</text>
<text transform="translate(162.5,926.6) scale(1,1.04)" >-60</text>
<text transform="translate(162.5,1059.9) scale(1,1.04)" >-80</text>
</g>
<text transform="translate(304.8,87.7) scale(1,1.055)" font-size="56.7px" >Jää ja lumi,14 182 Rapojärvi.Hau</text>
<text transform="translate(99.8,981.5) rotate(-90) scale(1,1.055)" font-size="49.7px" xml:space="preserve" style="white-space:pre">Jää ja lumi / Ice and snow    cm</text>
<g class="sm">
<text transform="translate(2223.0,84.0) scale(1,1.055)" >Lumen syvyys jäällä</text>
<text transform="translate(2223.0,127.0) scale(1,1.055)" >Simuloitu ja keskiennuste</text>
<text transform="translate(2223.0,200.0) scale(1,1.055)" >Jään paksuus</text>
<text transform="translate(2223.0,243.3) scale(1,1.055)" >Simuloitu ja keskiennuste</text>
<text transform="translate(2223.0,317.3) scale(1,1.055)" >Ennusteen vaihteluväli</text>
<text transform="translate(2223.0,391.4) scale(1,1.055)" >5-95% vaihteluväli</text>
<text transform="translate(2223.0,464.5) scale(1,1.055)" >25-75% vaihteluväli</text>
<text transform="translate(2223.0,539.0) scale(1,1.055)" >Kohvajää</text>
<text transform="translate(2223.0,612.4) scale(1,1.055)" >Ennusteen alku</text>
</g>
</g>
<g shape-rendering="crispEdges" fill="none">
<line x1="2223" y1="144" x2="2541" y2="144" stroke="#0000ff" stroke-width="10" stroke-dasharray="15 2.65" stroke-dashoffset="7"/>
<line x1="2223" y1="260.5" x2="2541" y2="260.5" stroke="#0000ff" stroke-width="13"/>
<line x1="2223" y1="334.5" x2="2541" y2="334.5" stroke="#ffff00" stroke-width="13"/>
<line x1="2223" y1="408.5" x2="2541" y2="408.5" stroke="#ff0000" stroke-width="13"/>
<line x1="2223" y1="482" x2="2541" y2="482" stroke="#00ff00" stroke-width="13"/>
<line x1="2223" y1="556" x2="2541" y2="556" stroke="#ff00ff" stroke-width="6"/>
<line x1="2223" y1="630" x2="2541" y2="630" stroke="#00ffff" stroke-width="10" stroke-dasharray="15 13.3"/>
</g>
</svg></body></html>
